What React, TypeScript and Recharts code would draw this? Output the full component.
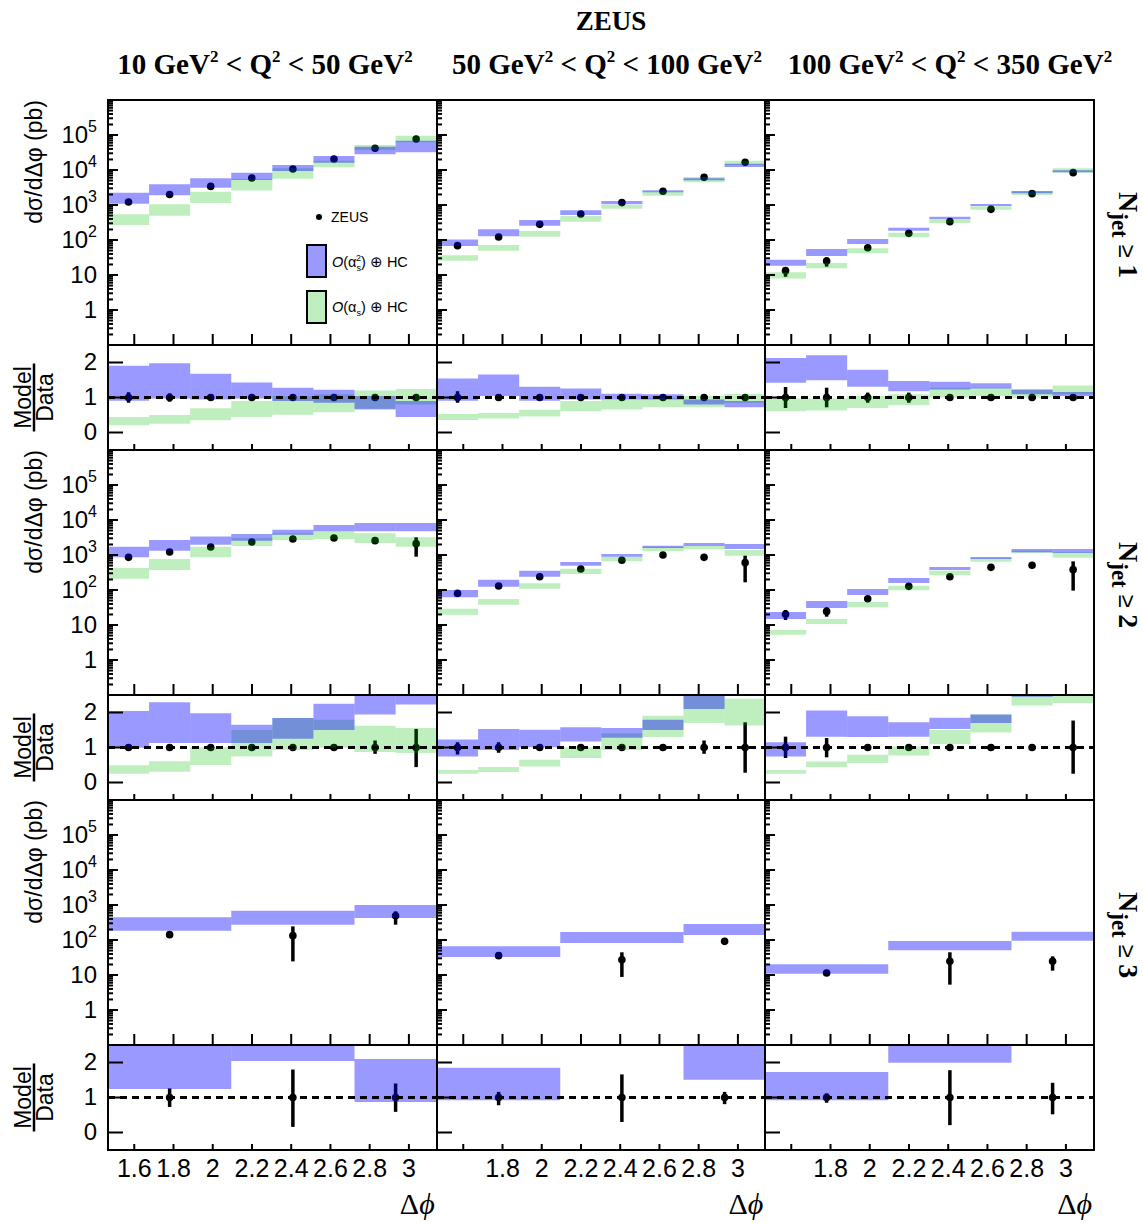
import React from 'react';
import { ComposedChart, XAxis, YAxis, Scatter, ErrorBar, ReferenceArea, ReferenceLine } from 'recharts';

type Pair = [number, number];
type Err = Pair | null;

// Δφ bin edges: 8 bins of π/15 for Njet ≥ 1, 2 and 3 wide bins for Njet ≥ 3
const fineEdges = [1.4661, 1.6755, 1.885, 2.0944, 2.3038, 2.5133, 2.7227, 2.9322, 3.1416];
const coarseEdges = [1.4661, 2.0944, 2.7227, 3.1416];

const qLow = ['10', '50', '100'];
const qHigh = ['50', '100', '350'];
const njetLabels = ['1', '2', '3'];

const xMajor = [1.6, 1.8, 2, 2.2, 2.4, 2.6, 2.8, 3];
const xMajorLabels = ['1.6', '1.8', '2', '2.2', '2.4', '2.6', '2.8', '3'];
const logMajor = [1, 10, 100, 1000, 10000, 100000];
const logBase = ['1', '10', '10', '10', '10', '10'];
const logExp = ['', '', '2', '3', '4', '5'];
const ratioTicks = [0, 1, 2];
const ratioLabels = ['0', '1', '2'];

// ---- Njet >= 1 ----
const j1q1Data = [1220, 2000, 3400, 5900, 10700, 20600, 42000, 77000];
const j1q1DataErr: Err[] = [null, null, null, null, null, null, null, null];
const j1q1Nlo: Pair[] = [[1090, 2250], [1900, 3900], [3100, 5800], [5200, 8400], [9400, 13900], [16000, 25000], [28000, 46000], [32000, 69000]];
const j1q1Lo: Pair[] = [[270, 540], [495, 1050], [1140, 2400], [2600, 5500], [5600, 11200], [11900, 18500], [37000, 52000], [62000, 95000]];
const j1q1RatErr: Pair[] = [[0.85, 1.15], [0.88, 1.12], [0.95, 1.05], [0.95, 1.05], [0.96, 1.04], [0.96, 1.04], [0.96, 1.04], [0.96, 1.04]];
const j1q1NloRat: Pair[] = [[0.91, 1.91], [0.97, 1.98], [0.94, 1.68], [0.97, 1.43], [0.9, 1.28], [0.85, 1.22], [0.66, 1.04], [0.44, 0.9]];
const j1q1LoRat: Pair[] = [[0.21, 0.44], [0.25, 0.5], [0.35, 0.69], [0.44, 0.9], [0.51, 1.04], [0.58, 1.09], [0.68, 1.2], [0.8, 1.24]];

const j1q2Data = [69, 122, 280, 553, 1170, 2460, 6170, 16600];
const j1q2DataErr: Err[] = [null, null, null, null, null, null, null, null];
const j1q2Nlo: Pair[] = [[67, 104], [127, 202], [257, 372], [518, 705], [1045, 1300], [2300, 2620], [5070, 5780], [12200, 15200]];
const j1q2Lo: Pair[] = [[25.7, 36.5], [49.5, 72], [124, 181], [334, 485], [785, 1000], [1850, 2450], [4450, 6300], [13900, 18500]];
const j1q2RatErr: Pair[] = [[0.85, 1.18], [0.9, 1.1], [0.96, 1.04], [0.96, 1.04], [0.96, 1.04], [0.96, 1.04], [0.96, 1.04], [0.96, 1.04]];
const j1q2NloRat: Pair[] = [[0.91, 1.54], [1.04, 1.66], [0.91, 1.31], [0.94, 1.26], [0.94, 1.11], [0.94, 1.09], [0.8, 0.94], [0.72, 0.9]];
const j1q2LoRat: Pair[] = [[0.36, 0.53], [0.4, 0.56], [0.46, 0.65], [0.61, 0.9], [0.66, 0.94], [0.72, 0.99], [0.72, 1.04], [0.85, 1.1]];

const j1q3Data = [13.3, 25, 60, 155, 334, 752, 2110, 8400];
const j1q3DataErr: Err[] = [[8.9, 16.2], [17.3, 32], null, null, null, null, null, null];
const j1q3Nlo: Pair[] = [[18.5, 27.4], [35, 55], [77, 107], [185, 225], [398, 464], [935, 1070], [2150, 2510], [8600, 9800]];
const j1q3Lo: Pair[] = [[8, 11.9], [15.5, 22], [41.6, 57.8], [119, 162], [306, 398], [735, 916], [1930, 2450], [8400, 11200]];
const j1q3RatErr: Pair[] = [[0.7, 1.3], [0.72, 1.28], [0.85, 1.14], [0.85, 1.14], [0.97, 1.03], [0.97, 1.03], [0.97, 1.03], [0.97, 1.03]];
const j1q3NloRat: Pair[] = [[1.42, 2.13], [1.49, 2.21], [1.31, 1.79], [1.18, 1.47], [1.23, 1.45], [1.26, 1.41], [1.09, 1.23], [1.04, 1.16]];
const j1q3LoRat: Pair[] = [[0.61, 0.97], [0.63, 0.97], [0.7, 1.04], [0.78, 1.09], [0.99, 1.28], [1.04, 1.28], [0.99, 1.23], [1.09, 1.34]];

// ---- Njet >= 2 ----
const j2q1Data = [858, 1220, 1690, 2350, 2860, 3060, 2570, 2110];
const j2q1DataErr: Err[] = [null, null, null, null, null, null, null, [896, 3200]];
const j2q1Nlo: Pair[] = [[857, 1730], [1330, 2680], [1970, 3400], [2570, 3980], [3810, 5300], [4740, 7200], [4740, 8200], [4740, 8200]];
const j2q1Lo: Pair[] = [[211, 425], [372, 769], [857, 1730], [1810, 3060], [2690, 4160], [2860, 4740], [2200, 4160], [1730, 3200]];
const j2q1RatErr: Pair[] = [[0.95, 1.05], [0.95, 1.05], [0.94, 1.06], [0.93, 1.07], [0.92, 1.08], [0.9, 1.1], [0.82, 1.2], [0.44, 1.53]];
const j2q1NloRat: Pair[] = [[0.99, 2.04], [1.13, 2.29], [1.13, 1.98], [1.13, 1.65], [1.25, 1.84], [1.5, 2.25], [1.94, 2.7], [2.23, 2.7]];
const j2q1LoRat: Pair[] = [[0.25, 0.49], [0.31, 0.61], [0.5, 1.01], [0.74, 1.5], [0.93, 1.84], [0.99, 1.79], [0.87, 1.62], [0.84, 1.56]];

const j2q2Data = [80, 130, 240, 398, 705, 1000, 858, 604];
const j2q2DataErr: Err[] = [null, null, null, null, null, null, null, [166, 957]];
const j2q2Nlo: Pair[] = [[62, 100], [124, 197], [240, 356], [496, 631], [896, 1070], [1580, 1850], [1850, 2200], [1480, 2060]];
const j2q2Lo: Pair[] = [[19.7, 29.3], [38, 55], [109, 155], [286, 407], [659, 896], [1270, 1730], [1450, 1930], [957, 1390]];
const j2q2RatErr: Pair[] = [[0.8, 1.15], [0.85, 1.15], [0.96, 1.04], [0.96, 1.04], [0.96, 1.04], [0.96, 1.04], [0.82, 1.2], [0.28, 1.72]];
const j2q2NloRat: Pair[] = [[0.74, 1.23], [0.93, 1.53], [1.01, 1.51], [1.17, 1.58], [1.28, 1.56], [1.5, 1.79], [2.1, 2.7], [2.6, 3.0]];
const j2q2LoRat: Pair[] = [[0.25, 0.36], [0.3, 0.44], [0.46, 0.65], [0.7, 1.01], [0.93, 1.41], [1.3, 1.91], [1.7, 2.7], [1.63, 2.39]];

const j2q3Data = [20.2, 24.5, 56.5, 127, 240, 444, 507, 381];
const j2q3DataErr: Err[] = [[13.9, 26.8], [17.3, 32], null, null, null, null, null, [96, 659]];
const j2q3Nlo: Pair[] = [[14.8, 23.5], [30.6, 48.5], [72, 107], [158, 220], [372, 454], [769, 877], [1190, 1480], [1140, 1480]];
const j2q3Lo: Pair[] = [[5.3, 7.2], [10.7, 14.8], [32, 45.4], [98, 133], [262, 356], [645, 803], [1120, 1330], [839, 1190]];
const j2q3RatErr: Pair[] = [[0.7, 1.31], [0.72, 1.27], [0.96, 1.04], [0.96, 1.04], [0.96, 1.04], [0.96, 1.04], [0.96, 1.04], [0.25, 1.77]];
const j2q3NloRat: Pair[] = [[0.74, 1.15], [1.31, 2.06], [1.3, 1.89], [1.31, 1.72], [1.53, 1.85], [1.7, 1.94], [2.45, 2.8], [2.6, 3.0]];
const j2q3LoRat: Pair[] = [[0.25, 0.36], [0.44, 0.6], [0.56, 0.79], [0.77, 1.03], [1.1, 1.5], [1.43, 1.94], [2.2, 2.47], [2.27, 2.5]];

// ---- Njet >= 3 (only O(as^2) + HC) ----
const j3q1Data = [142, 133, 495];
const j3q1DataErr: Err[] = [[125, 160], [24.5, 245], [274, 659]];
const j3q1Nlo: Pair[] = [[185, 444], [274, 689], [425, 1000]];
const j3q1RatErr: Pair[] = [[0.73, 1.26], [0.16, 1.8], [0.59, 1.4]];
const j3q1NloRat: Pair[] = [[1.24, 2.7], [2.04, 2.7], [0.87, 2.1]];

const j3q2Data = [35.7, 27.4, 91.6];
const j3q2DataErr: Err[] = [[32, 39], [8.8, 44.5], null];
const j3q2Nlo: Pair[] = [[32.7, 65.9], [82, 169], [139, 286]];
const j3q2RatErr: Pair[] = [[0.78, 1.16], [0.3, 1.66], [0.81, 1.16]];
const j3q2NloRat: Pair[] = [[0.92, 1.85], [2.7, 3.2], [1.51, 2.7]];

const j3q3Data = [11.4, 24.6, 24.6];
const j3q3DataErr: Err[] = [null, [5.3, 44.5], [13.3, 34.1]];
const j3q3Nlo: Pair[] = [[10.9, 20.2], [50.7, 93.6], [95.7, 173]];
const j3q3RatErr: Pair[] = [[0.85, 1.12], [0.21, 1.78], [0.52, 1.42]];
const j3q3NloRat: Pair[] = [[0.92, 1.73], [1.99, 2.7], [2.7, 3.2]];

type PanelData = { data: number[]; err: Err[]; nlo: Pair[]; lo: Pair[]; rErr: Pair[]; rNlo: Pair[]; rLo: Pair[] };

const panels: PanelData[][] = [
  [
    { data: j1q1Data, err: j1q1DataErr, nlo: j1q1Nlo, lo: j1q1Lo, rErr: j1q1RatErr, rNlo: j1q1NloRat, rLo: j1q1LoRat },
    { data: j1q2Data, err: j1q2DataErr, nlo: j1q2Nlo, lo: j1q2Lo, rErr: j1q2RatErr, rNlo: j1q2NloRat, rLo: j1q2LoRat },
    { data: j1q3Data, err: j1q3DataErr, nlo: j1q3Nlo, lo: j1q3Lo, rErr: j1q3RatErr, rNlo: j1q3NloRat, rLo: j1q3LoRat },
  ],
  [
    { data: j2q1Data, err: j2q1DataErr, nlo: j2q1Nlo, lo: j2q1Lo, rErr: j2q1RatErr, rNlo: j2q1NloRat, rLo: j2q1LoRat },
    { data: j2q2Data, err: j2q2DataErr, nlo: j2q2Nlo, lo: j2q2Lo, rErr: j2q2RatErr, rNlo: j2q2NloRat, rLo: j2q2LoRat },
    { data: j2q3Data, err: j2q3DataErr, nlo: j2q3Nlo, lo: j2q3Lo, rErr: j2q3RatErr, rNlo: j2q3NloRat, rLo: j2q3LoRat },
  ],
  [
    { data: j3q1Data, err: j3q1DataErr, nlo: j3q1Nlo, lo: [], rErr: j3q1RatErr, rNlo: j3q1NloRat, rLo: [] },
    { data: j3q2Data, err: j3q2DataErr, nlo: j3q2Nlo, lo: [], rErr: j3q2RatErr, rNlo: j3q2NloRat, rLo: [] },
    { data: j3q3Data, err: j3q3DataErr, nlo: j3q3Nlo, lo: [], rErr: j3q3RatErr, rNlo: j3q3NloRat, rLo: [] },
  ],
];

// layout
const COL_LEFT = [108, 436.7, 765.3];
const PW = 328.7;
const MAIN_TOP = [100, 450, 800];
const MH = 245;
const RH = 105;
const XMIN = 1.4661;
const XMAX = 3.1416;

const SANS = "'Liberation Sans', Arial, Helvetica, sans-serif";
const SERIF = "'Liberation Serif', 'Times New Roman', serif";
const NLO_FILL = '#0000ff';
const LO_FILL = '#00be00';
const TICK_W = 2;

const xMinor: number[] = [];
for (let v = 1.5; v < 3.14; v += 0.05) xMinor.push(+v.toFixed(2));
const logMinor: number[] = [];
for (let d = -1; d <= 5; d++) for (let k = 2; k <= 9; k++) logMinor.push(k * Math.pow(10, d));

const centers = (edges: number[]) => edges.slice(0, -1).map((e, i) => (e + edges[i + 1]) / 2);

// inward tick marks (ROOT style) drawn at the axis' own tick coordinate, optional label outside
const yTick = (plotLeft: number, len: number) => (p: any) => (
  <line x1={plotLeft} x2={plotLeft + len} y1={p.y} y2={p.y} stroke="#000" strokeWidth={TICK_W} />
);
const xTick = (plotBottom: number, len: number, label?: (v: number, x: number) => React.ReactNode) => (p: any) => (
  <g>
    <line x1={p.x} x2={p.x} y1={plotBottom} y2={plotBottom - len} stroke="#000" strokeWidth={TICK_W} />
    {label ? label(p.payload.value, p.x) : null}
  </g>
);

function Panel({ row, col, ratio }: { row: number; col: number; ratio: boolean }) {
  const p = panels[row][col];
  const edges = row === 2 ? coarseEdges : fineEdges;
  const mid = centers(edges);
  const first = col === 0;
  const mLeft = first ? COL_LEFT[0] : 0;
  const mBottom = ratio && row === 2 ? 45 : 0;
  const h = ratio ? RH : MH;
  const top = MAIN_TOP[row] + (ratio ? MH : 0);

  const pts = ratio
    ? p.rErr.map((e, i) => ({ x: mid[i], y: 1, err: [1 - e[0], e[1] - 1] }))
    : p.data.map((v, i) => {
        const e = p.err[i];
        return { x: mid[i], y: v, err: e ? [v - e[0], e[1] - v] : [0, 0] };
      });
  const nlo = ratio ? p.rNlo : p.nlo;
  const lo = ratio ? p.rLo : p.lo;

  const yMajorTick = (tp: any) => {
    const v = tp.payload.value;
    let label: React.ReactNode = null;
    if (first && ratio) {
      label = (
        <text x={97} y={tp.y + 8} textAnchor="end" fontFamily={SANS} fontSize={24} fill="#000">
          {ratioLabels[ratioTicks.indexOf(v)]}
        </text>
      );
    } else if (first) {
      const i = logMajor.indexOf(v);
      label = (
        <text x={97} y={tp.y + 8} textAnchor="end" fontFamily={SANS} fontSize={24} fill="#000">
          {logBase[i]}
          {logExp[i] ? <tspan dy={-11} fontSize={16}>{logExp[i]}</tspan> : null}
        </text>
      );
    }
    return (
      <g>
        <line x1={mLeft} x2={mLeft + (ratio ? 15 : 10)} y1={tp.y} y2={tp.y} stroke="#000" strokeWidth={TICK_W} />
        {label}
      </g>
    );
  };
  const showXLabels = ratio && row === 2;
  const xMajorTick = xTick(h, ratio ? 6 : 11, showXLabels
    ? (v, x) => {
        const i = xMajor.indexOf(v);
        if (i < 0 || (col > 0 && i === 0)) return null;
        return (
          <text x={x} y={h + 27} textAnchor="middle" fontFamily={SANS} fontSize={25} fill="#000">
            {xMajorLabels[i]}
          </text>
        );
      }
    : undefined);

  return (
    <div style={{ position: 'absolute', left: first ? 0 : COL_LEFT[col], top }}>
      <ComposedChart width={mLeft + PW} height={h + mBottom} margin={{ top: 0, right: 0, bottom: mBottom, left: mLeft }}>
        <XAxis xAxisId="x" dataKey="x" type="number" domain={[XMIN, XMAX]} allowDataOverflow ticks={xMajor} interval={0}
          mirror height={0.01} tick={xMajorTick} tickLine={false} axisLine={false} />
        <XAxis xAxisId="xm" type="number" domain={[XMIN, XMAX]} allowDataOverflow ticks={xMinor} interval={0}
          mirror height={0.01} tick={xTick(h, ratio ? 3 : 5)} tickLine={false} axisLine={false} />
        {ratio ? (
          <YAxis yAxisId="y" dataKey="y" type="number" domain={[-0.5, 2.5]} allowDataOverflow ticks={ratioTicks} interval={0}
            mirror width={0.01} tick={yMajorTick} tickLine={false} axisLine={false} />
        ) : (
          <YAxis yAxisId="y" dataKey="y" type="number" scale="log" domain={[0.1, 1e6]} allowDataOverflow ticks={logMajor} interval={0}
            mirror width={0.01} tick={yMajorTick} tickLine={false} axisLine={false} />
        )}
        {!ratio && (
          <YAxis yAxisId="ym" type="number" scale="log" domain={[0.1, 1e6]} allowDataOverflow ticks={logMinor} interval={0}
            mirror width={0.01} tick={yTick(mLeft, 5)} tickLine={false} axisLine={false} />
        )}
        <Scatter xAxisId="x" yAxisId="y" data={pts} fill="#000" isAnimationActive={false} zIndex={50}
          shape={(s: any) => <circle cx={s.cx} cy={s.cy} r={3.8} fill="#000" />}>
          <ErrorBar dataKey="err" direction="y" width={0} stroke="#000" strokeWidth={3.5} zIndex={50} isAnimationActive={false} />
        </Scatter>
        {lo.map((b, i) => (
          <ReferenceArea key={`lo${i}`} xAxisId="x" yAxisId="y" x1={edges[i]} x2={edges[i + 1]} y1={b[0]} y2={b[1]}
            fill={LO_FILL} fillOpacity={0.25} stroke="none" ifOverflow="hidden" zIndex={60} />
        ))}
        {nlo.map((b, i) => (
          <ReferenceArea key={`nlo${i}`} xAxisId="x" yAxisId="y" x1={edges[i]} x2={edges[i + 1]} y1={b[0]} y2={b[1]}
            fill={NLO_FILL} fillOpacity={0.4} stroke="none" ifOverflow="hidden" zIndex={70} />
        ))}
        {ratio && (
          <ReferenceLine xAxisId="x" yAxisId="y" y={1} stroke="#000" strokeWidth={3} strokeDasharray="7 5" zIndex={80} />
        )}
      </ComposedChart>
    </div>
  );
}

function Frames() {
  const out: React.ReactNode[] = [];
  [0, 1, 2].forEach((r) =>
    [0, 1, 2].forEach((c) => {
      [
        [MAIN_TOP[r], MH],
        [MAIN_TOP[r] + MH, RH],
      ].forEach(([t, h], k) =>
        out.push(
          <div key={`f${r}${c}${k}`} style={{ position: 'absolute', left: COL_LEFT[c] - 1, top: t - 1, width: PW + 2, height: h + 2,
            border: '2px solid #000', boxSizing: 'border-box', pointerEvents: 'none' }} />
        )
      );
    })
  );
  return <>{out}</>;
}

function Overlay() {
  const colCenters = [265, 607, 950];
  return (
    <svg width={1143} height={1224} style={{ position: 'absolute', left: 0, top: 0, pointerEvents: 'none' }}>
      <text x={611} y={30} textAnchor="middle" fontFamily={SERIF} fontWeight="bold" fontSize={27}>ZEUS</text>
      {colCenters.map((cx, c) => (
        <text key={`h${c}`} x={cx} y={74} textAnchor="middle" fontFamily={SERIF} fontWeight="bold" fontSize={29}>
          {`${qLow[c]} GeV`}
          <tspan dy={-12} fontSize={17}>2</tspan>
          <tspan dy={12}>{' < Q'}</tspan>
          <tspan dy={-12} fontSize={17}>2</tspan>
          <tspan dy={12}>{` < ${qHigh[c]} GeV`}</tspan>
          <tspan dy={-12} fontSize={17}>2</tspan>
        </text>
      ))}
      {[0, 1, 2].map((r) => {
        const T = MAIN_TOP[r];
        const C = T + MH + RH / 2;
        return (
          <g key={`r${r}`}>
            <text transform={`translate(42, ${T}) rotate(-90)`} textAnchor="end" fontFamily={SANS} fontSize={23}>
              dσ/dΔφ (pb)
            </text>
            <text transform={`translate(31, ${C}) rotate(-90)`} textAnchor="middle" fontFamily={SANS} fontSize={23}>Model</text>
            <line x1={34} x2={34} y1={C - 34} y2={C + 34} stroke="#000" strokeWidth={2.5} />
            <text transform={`translate(53, ${C}) rotate(-90)`} textAnchor="middle" fontFamily={SANS} fontSize={23}>Data</text>
            <text transform={`translate(1119, ${T + 92}) rotate(90)`} fontFamily={SERIF} fontWeight="bold" fontSize={28}>
              N
              <tspan dy={7} fontSize={23}>jet</tspan>
              <tspan dy={-7} fontWeight="normal" fontFamily={SANS} fontSize={24}>{'   ≥ '}</tspan>
              <tspan>{njetLabels[r]}</tspan>
            </text>
          </g>
        );
      })}
      {[0, 1, 2].map((c) => (
        <text key={`dphi${c}`} x={COL_LEFT[c] + PW - 2} y={1214} textAnchor="end" fontFamily={SERIF} fontSize={30}>
          Δ<tspan fontStyle="italic">ϕ</tspan>
        </text>
      ))}
      {/* legend */}
      <circle cx={319} cy={217} r={3} fill="#000" />
      <text x={331} y={222} fontFamily={SANS} fontSize={14}>ZEUS</text>
      <rect x={307} y={245} width={19} height={32} fill={NLO_FILL} fillOpacity={0.4} stroke="#000" strokeWidth={2} />
      <text x={332} y={267} fontFamily={SANS} fontSize={14.5}>
        <tspan fontStyle="italic">O</tspan>(α
        <tspan dy={4} fontSize={9}>s</tspan>
        <tspan dx={-5} dy={-10} fontSize={9}>2</tspan>
        <tspan dy={6}>) ⊕ HC</tspan>
      </text>
      <rect x={307} y={291} width={19} height={32} fill={LO_FILL} fillOpacity={0.25} stroke="#000" strokeWidth={2} />
      <text x={332} y={312} fontFamily={SANS} fontSize={14.5}>
        <tspan fontStyle="italic">O</tspan>(α
        <tspan dy={4} fontSize={9}>s</tspan>
        <tspan dy={-4}>) ⊕ HC</tspan>
      </text>
    </svg>
  );
}

export default function App() {
  return (
    <div style={{ position: 'absolute', left: 0, top: 0, width: 1143, height: 1224, background: '#fff' }}>
      {[0, 1, 2].map((r) =>
        [0, 1, 2].map((c) => (
          <React.Fragment key={`p${r}${c}`}>
            <Panel row={r} col={c} ratio={false} />
            <Panel row={r} col={c} ratio />
          </React.Fragment>
        ))
      )}
      <Frames />
      <Overlay />
    </div>
  );
}
